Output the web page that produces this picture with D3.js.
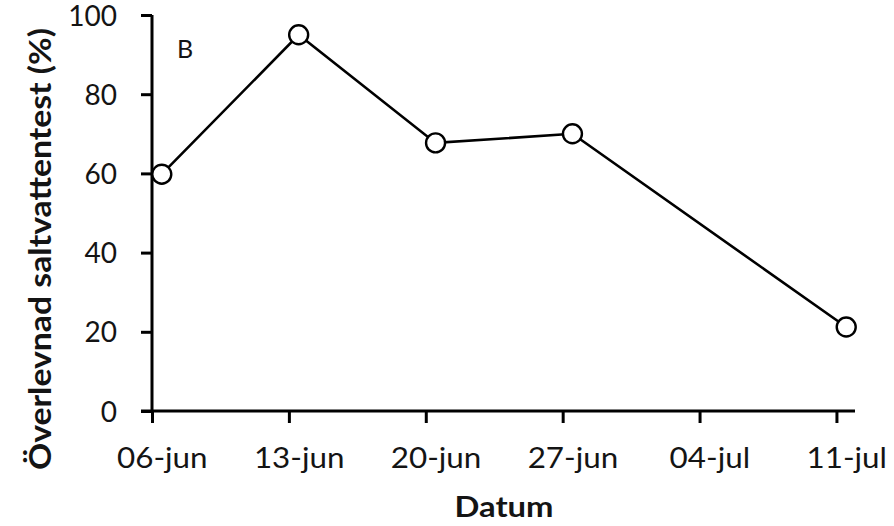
<!DOCTYPE html>
<html>
<head>
<meta charset="utf-8">
<script src="https://cdn.jsdelivr.net/npm/d3@7"></script>
<style>
  html, body { margin: 0; padding: 0; background: #fff; }
  svg { display: block; }
</style>
</head>
<body>
<svg id="chart" width="894" height="526"></svg>
<script>
// ---- data ----
const sampleDates = ["2020-06-06T12:00", "2020-06-13T12:00", "2020-06-20T12:00", "2020-06-27T12:00", "2020-07-11T12:00"];
const survival = [59.8, 95, 67.7, 70, 21.2];
const tickDates = ["2020-06-06", "2020-06-13", "2020-06-20", "2020-06-27", "2020-07-04", "2020-07-11"];
const tickLabels = ["06-jun", "13-jun", "20-jun", "27-jun", "04-jul", "11-jul"];
const yTicks = [0, 20, 40, 60, 80, 100];
const xTitle = "Datum";
const yTitle = "Överlevnad saltvattentest (%)";
const panelLabel = "B";

// ---- setup ----
const parse = d3.utcParse("%Y-%m-%dT%H:%M");
const parseDay = d3.utcParse("%Y-%m-%d");
const points = sampleDates.map((d, i) => ({ date: parse(d), value: survival[i] }));
const ticks = tickDates.map(parseDay);

const svg = d3.select("#chart");
const mLeft = 152, mRight = 856, mTop = 15, mBottom = 411;
const font = "Lato, 'Open Sans', sans-serif";
const ink = "#141414";

// widen horizontally-set text a little (the reference face is wider)
function stretch(sel, k) {
  sel.each(function () {
    const w = this.getComputedTextLength();
    d3.select(this).attr("textLength", w * k).attr("lengthAdjust", "spacingAndGlyphs");
  });
}

const x = d3.scaleUtc()
  .domain([parseDay("2020-06-06"), parseDay("2020-07-12")])
  .range([mLeft, mRight]);
const y = d3.scaleLinear().domain([0, 100]).range([mBottom, mTop]);

const halfDay = x(parse("2020-06-06T12:00")) - x(parseDay("2020-06-06"));

// x axis
const xAxis = d3.axisBottom(x)
  .tickValues(ticks)
  .tickSizeInner(12).tickSizeOuter(0)
  .tickPadding(25)
  .tickFormat((d, i) => tickLabels[i]);
const gx = svg.append("g").attr("transform", `translate(0,${mBottom})`).call(xAxis);
gx.select(".domain").remove();
gx.append("line").attr("x1", mLeft - 11).attr("x2", mRight - 1).attr("y1", 0).attr("y2", 0)
  .attr("stroke", "#000").attr("stroke-width", 3);
gx.selectAll(".tick line").attr("stroke", "#000").attr("stroke-width", 3);
gx.selectAll(".tick text").attr("fill", ink).attr("font-size", 28)
  .attr("font-family", font).attr("dx", halfDay);
stretch(gx.selectAll(".tick text"), 1.12);

// y axis
const yAxis = d3.axisLeft(y)
  .tickValues(yTicks)
  .tickSizeInner(11).tickSizeOuter(0)
  .tickPadding(24);
const gy = svg.append("g").attr("transform", `translate(${mLeft},0)`).call(yAxis);
gy.select(".domain").remove();
gy.append("line").attr("x1", 0).attr("x2", 0).attr("y1", mTop).attr("y2", mBottom)
  .attr("stroke", "#000").attr("stroke-width", 3);
gy.selectAll(".tick line").attr("stroke", "#000").attr("stroke-width", 3);
gy.selectAll(".tick text").attr("fill", ink).attr("font-size", 28)
  .attr("font-family", font).attr("dy", "0.36em");

// line
const line = d3.line().x(d => x(d.date)).y(d => y(d.value));
svg.append("path").datum(points)
  .attr("d", line).attr("fill", "none")
  .attr("stroke", "#000").attr("stroke-width", 2.6);

// markers
svg.selectAll("circle.pt").data(points).enter().append("circle")
  .attr("class", "pt")
  .attr("cx", d => x(d.date)).attr("cy", d => y(d.value))
  .attr("r", 9.5)
  .attr("fill", "#fff").attr("stroke", "#000").attr("stroke-width", 2.4);

// titles
const xt = svg.append("text")
  .attr("x", (mLeft + mRight) / 2).attr("y", 517)
  .attr("text-anchor", "middle")
  .attr("font-family", font).attr("font-weight", "bold").attr("font-size", 29)
  .attr("fill", ink)
  .text(xTitle);
stretch(xt, 1.13);

svg.append("text")
  .attr("transform", `translate(51,249) rotate(-90)`)
  .attr("text-anchor", "middle")
  .attr("font-family", font).attr("font-weight", "bold").attr("font-size", 31)
  .attr("fill", ink)
  .attr("textLength", 442).attr("lengthAdjust", "spacingAndGlyphs")
  .text(yTitle);

svg.append("text")
  .attr("x", 177).attr("y", 58)
  .attr("font-family", font).attr("font-size", 25)
  .attr("fill", ink)
  .text(panelLabel);
</script>
</body>
</html>
